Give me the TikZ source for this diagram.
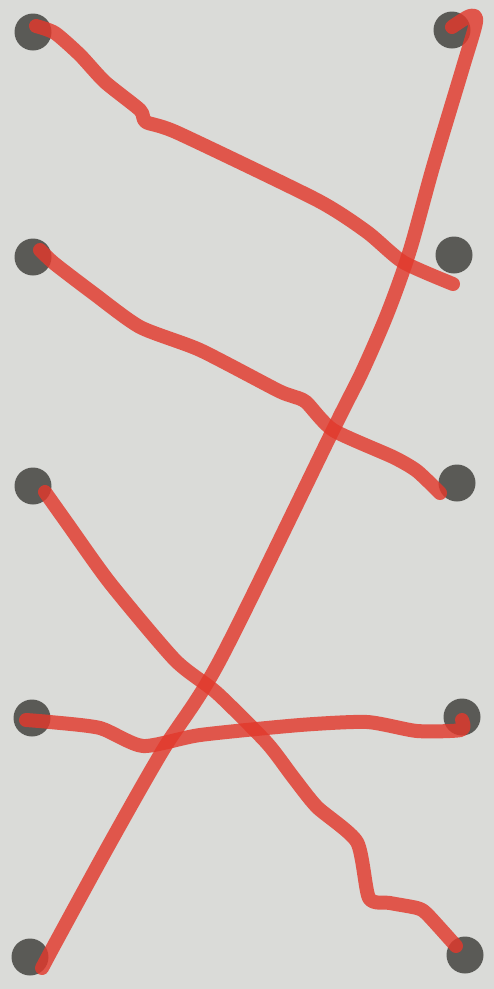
\documentclass[tikz,border=0pt]{standalone}
\begin{document}
\begin{tikzpicture}[x=1pt,y=-1pt,
  dotnode/.style={circle,fill=dotgray,inner sep=0pt,minimum size=37pt},
  marker/.style={draw=markred,line width=14pt,line cap=round,line join=round,opacity=0.82}]
\definecolor{paper}{HTML}{DADBD8}
\definecolor{dotgray}{HTML}{5A5A56}
\definecolor{markred}{HTML}{E2392C}
\fill[paper] (0,0) rectangle (494,989);
\useasboundingbox (0,0) rectangle (494,989);
% dots
\node[dotnode] (l1) at (33,32) {};
\node[dotnode] (l2) at (33,257) {};
\node[dotnode] (l3) at (33,486) {};
\node[dotnode] (l4) at (32,718) {};
\node[dotnode] (l5) at (30,957) {};
\node[dotnode] (r1) at (452,30) {};
\node[dotnode] (r2) at (454,255) {};
\node[dotnode] (r3) at (457,483) {};
\node[dotnode] (r4) at (462,717) {};
\node[dotnode] (r5) at (465,955) {};
% line 1
\draw[marker] plot[smooth,tension=0.4] coordinates {(36,26) (55,33) (80,55) (105,82) (140,110) (146,122) (178,133) (317,200) (367,232) (403,262) (453,284)};
% line 2
\draw[marker] plot[smooth,tension=0.4] coordinates {(40,250) (55,264) (93,293) (140,327) (200,350) (277,390) (292,396) (306,402) (333,430) (393,457) (417,471) (440,493)};
% line 3
\draw[marker] plot[smooth,tension=0.4] coordinates {(45,492) (67,523) (110,583) (175,660) (217,693) (267,743) (293,777) (317,807) (357,842) (369,898) (390,903) (417,908) (427,914) (456,946)};
% line 4
\draw[marker] plot[smooth,tension=0.4] coordinates {(26,720) (50,722) (100,728) (143,746) (200,735) (300,725) (367,722) (417,731) (461,730) (462,720)};
% line 5
\draw[marker] plot[smooth,tension=0.5] coordinates {(42,968) (57,940) (110,843) (163,750) (220,660) (333,430) (362,372) (388,312) (410,250) (433,167) (463,67) (476,22) (470,16) (452,27)};
\end{tikzpicture}
\end{document}
